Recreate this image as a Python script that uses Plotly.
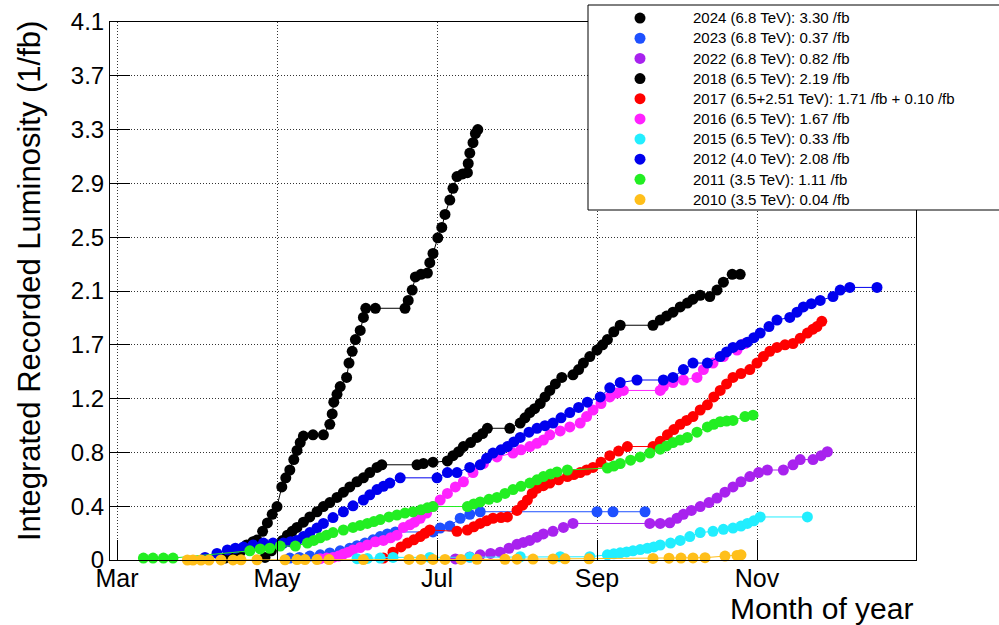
import plotly.graph_objects as go

# x values: month of year (3.0 = 1 March), y: integrated recorded luminosity (1/fb)
x2024 = [4.35, 4.45, 4.54, 4.62, 4.7, 4.75, 4.82, 4.88, 4.94, 5.0, 5.06, 5.11, 5.16, 5.21, 5.25, 5.29, 5.33, 5.45, 5.58,
         5.66, 5.69, 5.71, 5.75, 5.79, 5.87, 5.9, 5.94, 5.98, 6.04, 6.08, 6.11, 6.23, 6.6, 6.64, 6.69, 6.73, 6.8, 6.88,
         6.91, 6.95, 7.01, 7.06, 7.1, 7.16, 7.2, 7.25, 7.32, 7.38, 7.39, 7.41, 7.45, 7.48, 7.51]
y2024 = [0.015, 0.04, 0.06, 0.115, 0.14, 0.153, 0.22, 0.284, 0.35, 0.41, 0.56, 0.63, 0.69, 0.77, 0.84, 0.9, 0.95, 0.96, 0.96,
         1.04, 1.12, 1.21, 1.27, 1.33, 1.40, 1.51, 1.60, 1.69, 1.76, 1.86, 1.93, 1.93, 1.93, 1.99, 2.07, 2.17, 2.19, 2.20,
         2.28, 2.35, 2.47, 2.55, 2.65, 2.76, 2.85, 2.94, 2.96, 2.97, 3.04, 3.12, 3.20, 3.27, 3.30]

x2023 = [5.16, 5.28, 5.41, 5.54, 5.66, 5.79, 5.91, 6.0, 6.1, 6.2, 6.29, 6.38, 6.48, 6.95, 7.04, 7.16, 7.29, 7.41, 7.54,
         9.0, 9.2, 9.6]
y2023 = [0.015, 0.02, 0.03, 0.04, 0.054, 0.07, 0.09, 0.11, 0.13, 0.155, 0.18, 0.2, 0.215, 0.215, 0.245, 0.26, 0.32, 0.35, 0.37,
         0.37, 0.37, 0.37]

x2022 = [7.23, 7.41, 7.54, 7.67, 7.79, 7.9, 8.0, 8.08, 8.16, 8.25, 8.33, 8.45, 8.58, 8.7, 9.66, 9.79, 9.91, 10.0, 10.08,
         10.18, 10.29, 10.4, 10.5, 10.6, 10.7, 10.8, 10.91, 11.02, 11.13, 11.33, 11.45, 11.54, 11.7, 11.8, 11.88]
y2022 = [0.008, 0.023, 0.04, 0.05, 0.06, 0.09, 0.12, 0.135, 0.15, 0.175, 0.20, 0.22, 0.25, 0.28, 0.28, 0.28, 0.285, 0.32, 0.35,
         0.38, 0.41, 0.44, 0.475, 0.52, 0.56, 0.60, 0.64, 0.67, 0.69, 0.69, 0.73, 0.77, 0.77, 0.80, 0.83]

x2018 = [4.85, 4.93, 5.0, 5.07, 5.13, 5.19, 5.25, 5.33, 5.41, 5.5, 5.58, 5.66, 5.75, 5.83, 5.91, 6.0, 6.08, 6.16, 6.25,
         6.31, 6.75, 6.83, 6.95, 7.13, 7.2, 7.27, 7.33, 7.42, 7.5, 7.57, 7.63, 7.91, 8.04, 8.1, 8.16, 8.22, 8.29, 8.35,
         8.41, 8.48, 8.56, 8.7, 8.77, 8.83, 8.91, 9.0, 9.07, 9.13, 9.21, 9.29, 9.7, 9.79, 9.87, 9.95, 10.04, 10.13,
         10.2, 10.29, 10.41, 10.5, 10.58, 10.69, 10.79]
y2018 = [0.02, 0.07, 0.115, 0.15, 0.19, 0.22, 0.25, 0.29, 0.33, 0.37, 0.41, 0.44, 0.48, 0.52, 0.56, 0.60, 0.63, 0.67, 0.71,
         0.73, 0.73, 0.74, 0.75, 0.76, 0.80, 0.83, 0.87, 0.90, 0.94, 0.97, 1.01, 1.01, 1.05, 1.09, 1.13, 1.16, 1.20, 1.25,
         1.30, 1.35, 1.40, 1.42, 1.46, 1.51, 1.56, 1.61, 1.65, 1.69, 1.75, 1.80, 1.80, 1.84, 1.87, 1.90, 1.94, 1.97,
         2.0, 2.03, 2.02, 2.07, 2.13, 2.19, 2.19]

x2017 = [6.33, 6.45, 6.55, 6.63, 6.71, 6.79, 6.85, 6.91, 7.25, 7.38, 7.46, 7.54, 7.62, 7.7, 7.8, 7.88, 8.0, 8.07, 8.13,
         8.19, 8.25, 8.33, 8.41, 8.52, 8.63, 8.71, 8.79, 8.87, 8.95, 9.05, 9.16, 9.27, 9.38, 9.7, 9.79, 9.88, 9.96,
         10.04, 10.12, 10.2, 10.29, 10.38, 10.46, 10.54, 10.62, 10.7, 10.8, 10.91, 11.0, 11.08, 11.16, 11.25, 11.35,
         11.45, 11.54, 11.63, 11.7, 11.75, 11.81]
y2017 = [0.015, 0.06, 0.1, 0.13, 0.155, 0.18, 0.205, 0.23, 0.22, 0.23, 0.255, 0.28, 0.30, 0.32, 0.325, 0.33, 0.38, 0.42, 0.46,
         0.51, 0.55, 0.57, 0.59, 0.615, 0.64, 0.655, 0.67, 0.69, 0.71, 0.75, 0.80, 0.835, 0.87, 0.87, 0.91, 0.96, 1.0,
         1.04, 1.07, 1.10, 1.15, 1.19, 1.25, 1.30, 1.35, 1.40, 1.43, 1.46, 1.51, 1.56, 1.60, 1.63, 1.65, 1.66, 1.70,
         1.74, 1.77, 1.79, 1.83]

x2016 = [5.54, 5.62, 5.7, 5.77, 5.83, 5.89, 5.95, 6.04, 6.13, 6.23, 6.33, 6.42, 6.5, 6.58, 6.66, 6.72, 6.79, 6.87, 6.95,
         7.04, 7.13, 7.23, 7.33, 7.45, 7.58, 7.75, 7.95, 8.05, 8.16, 8.25, 8.33, 8.41, 8.54, 8.66, 8.79, 8.87, 8.95,
         9.05, 9.16, 9.25, 9.33, 9.79, 9.83, 9.95, 10.08, 10.25, 10.33, 10.45, 10.58, 10.75, 10.85]
y2016 = [0.01, 0.015, 0.02, 0.03, 0.046, 0.06, 0.077, 0.095, 0.115, 0.14, 0.15, 0.17, 0.19, 0.25, 0.27, 0.29, 0.32, 0.36, 0.41,
         0.46, 0.51, 0.56, 0.60, 0.67, 0.74, 0.79, 0.82, 0.845, 0.87, 0.895, 0.92, 0.96, 0.99, 1.02, 1.05, 1.10, 1.15,
         1.20, 1.25, 1.28, 1.30, 1.30, 1.33, 1.36, 1.38, 1.40, 1.46, 1.51, 1.56, 1.61, 1.66]

x2015 = [6.0, 6.13, 6.29, 6.45, 6.91, 7.41, 8.04, 8.54, 8.91, 9.13, 9.21, 9.29, 9.37, 9.45, 9.54, 9.63, 9.71, 9.79, 9.92,
         10.04, 10.16, 10.29, 10.45, 10.58, 10.7, 10.8, 10.88, 10.96, 11.04, 11.63]
y2015 = [0.01, 0.012, 0.015, 0.02, 0.02, 0.022, 0.025, 0.025, 0.025, 0.04, 0.047, 0.055, 0.062, 0.07, 0.08, 0.09, 0.1, 0.115, 0.13,
         0.15, 0.18, 0.21, 0.22, 0.235, 0.245, 0.26, 0.28, 0.3, 0.33, 0.33]

x2012 = [4.1, 4.25, 4.38, 4.48, 4.58, 4.7, 4.83, 4.95, 5.08, 5.17, 5.25, 5.33, 5.41, 5.5, 5.58, 5.7, 5.83, 5.95, 6.08,
         6.16, 6.25, 6.33, 6.41, 6.54, 7.0, 7.13, 7.25, 7.41, 7.54, 7.62, 7.7, 7.8, 7.88, 7.96, 8.04, 8.15, 8.25,
         8.35, 8.45, 8.55, 8.66, 8.77, 8.88, 9.04, 9.16, 9.29, 9.5, 9.83, 9.95, 10.08, 10.2, 10.38, 10.54, 10.62,
         10.7, 10.8, 10.88, 10.96, 11.04, 11.15, 11.25, 11.41, 11.5, 11.58, 11.68, 11.79, 11.95, 12.04, 12.16, 12.5]
y2012 = [0.02, 0.05, 0.077, 0.09, 0.10, 0.115, 0.13, 0.13, 0.13, 0.14, 0.15, 0.18, 0.21, 0.245, 0.28, 0.325, 0.37, 0.415, 0.46,
         0.5, 0.54, 0.565, 0.59, 0.63, 0.63, 0.67, 0.67, 0.71, 0.73, 0.78, 0.82, 0.845, 0.87, 0.905, 0.94, 0.98, 1.01,
         1.03, 1.05, 1.09, 1.13, 1.17, 1.21, 1.25, 1.32, 1.36, 1.38, 1.38, 1.40, 1.46, 1.51, 1.51, 1.56, 1.595,
         1.63, 1.65, 1.67, 1.705, 1.74, 1.79, 1.84, 1.86, 1.90, 1.94, 1.965, 1.99, 2.02, 2.07, 2.09, 2.09]

x2011 = [3.33, 3.45, 3.58, 3.7, 4.66, 4.79, 4.91, 5.04, 5.23, 5.38, 5.46, 5.54, 5.62, 5.7, 5.83, 5.95, 6.04, 6.13, 6.21,
         6.29, 6.4, 6.5, 6.6, 6.7, 6.8, 6.88, 6.95, 7.38, 7.46, 7.54, 7.65, 7.75, 7.85, 7.95, 8.05, 8.16, 8.25, 8.33,
         8.42, 8.5, 8.63, 9.13, 9.21, 9.29, 9.42, 9.54, 9.66, 9.79, 9.87, 9.95, 10.04, 10.13, 10.25, 10.38, 10.46,
         10.54, 10.62, 10.7, 10.85, 10.95]
y2011 = [0.015, 0.015, 0.015, 0.015, 0.07, 0.085, 0.09, 0.107, 0.107, 0.13, 0.15, 0.17, 0.19, 0.21, 0.23, 0.25, 0.265, 0.28, 0.295,
         0.31, 0.33, 0.345, 0.36, 0.37, 0.385, 0.40, 0.41, 0.41, 0.43, 0.445, 0.465, 0.48, 0.51, 0.54, 0.565, 0.59, 0.615, 0.64,
         0.66, 0.675, 0.69, 0.705, 0.72, 0.74, 0.765, 0.79, 0.82, 0.85, 0.875, 0.90, 0.92, 0.94, 0.98, 1.02, 1.04,
         1.06, 1.065, 1.07, 1.10, 1.11]

x2010 = [3.88, 3.95, 4.05, 4.15, 4.3, 4.45, 4.55, 4.75, 5.1, 5.25, 5.35, 5.5, 5.65, 6.08, 6.65, 6.8, 6.95, 7.1, 7.3,
         7.5, 7.85, 8.0, 8.2, 8.45, 8.6, 8.9, 9.7, 9.9, 10.05, 10.2, 10.35, 10.6, 10.75, 10.8]
y2010 = [0.0, 0.0, 0.0, 0.0, 0.0005, 0.0005, 0.001, 0.002, 0.002, 0.003, 0.003, 0.003, 0.003, 0.003, 0.004, 0.004, 0.004, 0.004, 0.004,
         0.005, 0.005, 0.006, 0.007, 0.008, 0.009, 0.009, 0.012, 0.014, 0.015, 0.016, 0.018, 0.03, 0.035, 0.04]

names = ["2024 (6.8 TeV): 3.30 /fb", "2023 (6.8 TeV): 0.37 /fb", "2022 (6.8 TeV): 0.82 /fb",
         "2018 (6.5 TeV): 2.19 /fb", "2017 (6.5+2.51 TeV): 1.71 /fb + 0.10 /fb", "2016 (6.5 TeV): 1.67 /fb",
         "2015 (6.5 TeV): 0.33 /fb", "2012 (4.0 TeV): 2.08 /fb", "2011 (3.5 TeV): 1.11 /fb", "2010 (3.5 TeV): 0.04 /fb"]
colors = ["#000000", "#1e50ff", "#a822ee", "#000000", "#ff0000", "#ff22ff", "#22eeff", "#0000ee", "#22ee22", "#ffbf1a"]
xs = [x2024, x2023, x2022, x2018, x2017, x2016, x2015, x2012, x2011, x2010]
ys = [y2024, y2023, y2022, y2018, y2017, y2016, y2015, y2012, y2011, y2010]

month_vals = [3, 5, 7, 9, 11]
month_text = ["Mar", "May", "Jul", "Sep", "Nov"]
y_step = 0.4125
y_vals = [k * y_step for k in range(11)]
y_text = ["0", "0.4", "0.8", "1.2", "1.7", "2.1", "2.5", "2.9", "3.3", "3.7", "4.1"]

FONT = "Liberation Sans, Arial, sans-serif"
W, H = 999, 625
L, R, T, B = 110, 83, 22, 65
pw, ph = W - L - R, H - T - B


def px_x(p):
    return (p - L) / pw


def px_y(p):
    return (H - B - p) / ph


fig = go.Figure()
for x, y, n, c in zip(xs, ys, names, colors):
    fig.add_trace(go.Scatter(x=x, y=y, mode="lines", showlegend=False, hoverinfo="skip",
                             line=dict(color=c, width=1), cliponaxis=False))
    fig.add_trace(go.Scatter(x=x, y=y, name='<span style="font-size:15px">' + n + '</span>',
                             mode="markers",
                             marker=dict(color=c, size=11, symbol="circle"),
                             cliponaxis=False))

fig.update_layout(
    width=W, height=H,
    margin=dict(l=L, r=R, t=T, b=B, autoexpand=False),
    paper_bgcolor="white", plot_bgcolor="white",
    font=dict(family=FONT, color="black"),
    showlegend=True,
    legend=dict(x=px_x(587), y=px_y(3), xanchor="left", yanchor="top",
                bgcolor="rgba(0,0,0,0)", borderwidth=0,
                font=dict(size=13.2, family=FONT), itemwidth=96,
                tracegroupgap=0),
    xaxis=dict(range=[2.9125, 12.9875], tickvals=month_vals, ticktext=month_text,
               showgrid=True, gridcolor="#333333", griddash="1px,2px", gridwidth=1,
               showline=True, mirror=True, linecolor="black", linewidth=1,
               ticks="inside", ticklen=20, tickcolor="black", ticklabelstandoff=-4,
               tickfont=dict(size=25, family=FONT), zeroline=False),
    yaxis=dict(range=[0, 4.125], tickvals=y_vals, ticktext=y_text,
               showgrid=True, gridcolor="#333333", griddash="1px,2px", gridwidth=1,
               showline=True, mirror=True, linecolor="black", linewidth=1,
               ticks="inside", ticklen=20, tickcolor="black",
               tickfont=dict(size=24, family=FONT), zeroline=False),
    shapes=[dict(type="rect", xref="paper", yref="paper",
                 x0=px_x(588), x1=px_x(1010), y0=px_y(210), y1=px_y(5),
                 fillcolor="white", line=dict(color="black", width=1), layer="above")],
    annotations=[
        dict(text="Integrated Recorded Luminosity (1/fb)", xref="paper", yref="paper",
             x=px_x(29), y=px_y(281), xanchor="center", yanchor="middle", textangle=-90,
             showarrow=False, font=dict(size=31, family=FONT)),
        dict(text="Month of year", xref="paper", yref="paper",
             x=px_x(915), y=px_y(608), xanchor="right", yanchor="middle",
             showarrow=False, font=dict(size=30, family=FONT)),
    ],
)

fig.write_html("out.html", config={"displayModeBar": False},
               post_script="document.body.style.margin='0px';document.body.style.overflow='hidden';")
